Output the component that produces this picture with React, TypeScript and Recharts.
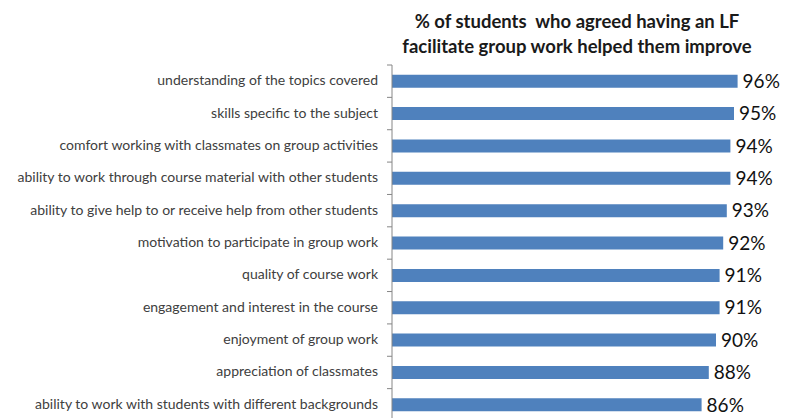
import { BarChart, Bar, XAxis, YAxis, LabelList } from 'recharts';

const CATEGORIES = [
  'understanding of the topics covered',
  'skills specific to the subject',
  'comfort working with classmates on group activities',
  'ability to work through course material with other students',
  'ability to give help to or receive help from other students',
  'motivation to participate in group work',
  'quality of course work',
  'engagement and interest in the course',
  'enjoyment of group work',
  'appreciation of classmates',
  'ability to work with students with different backgrounds',
];

const PERCENT_AGREED = [0.96, 0.95, 0.94, 0.94, 0.93, 0.92, 0.91, 0.91, 0.90, 0.88, 0.86];

const TITLE_LINES = [
  '% of students  who agreed having an LF',
  'facilitate group work helped them improve',
];

const data = CATEGORIES.map((name, i) => ({ name, value: PERCENT_AGREED[i] }));

const WIDTH = 792;
const HEIGHT = 425;
const MARGIN = { top: 65, right: 40, bottom: 4, left: 0 };
const BAND = (HEIGHT - MARGIN.top - MARGIN.bottom) / CATEGORIES.length;
const FONT = 'Lato, "Open Sans", sans-serif';

// label plus the little Excel-style tick sitting between categories
function CategoryTick(props: any) {
  const { x, y, payload } = props;
  return (
    <g>
      <text x={x} y={y} dy={4} textAnchor="end" fill="#404040" fontSize={14} fontFamily={FONT}>
        {payload.value}
      </text>
      <line x1={x + 9} x2={x + 14} y1={y - BAND / 2} y2={y - BAND / 2} stroke="#868686" />
    </g>
  );
}

export default function App() {
  return (
    <div style={{ position: 'absolute', left: 0, top: 0, width: WIDTH, height: 418, overflow: 'hidden', background: '#fff' }}>
      <div
        style={{
          position: 'absolute',
          left: 377,
          width: 400,
          top: 9,
          textAlign: 'center',
          fontFamily: FONT,
          fontWeight: 700,
          fontSize: 18.5,
          lineHeight: '25px',
          color: '#1a1a1a',
        }}
      >
        {TITLE_LINES.map((t) => (
          <div key={t} style={{ whiteSpace: 'pre' }}>{t}</div>
        ))}
      </div>
      <BarChart width={WIDTH} height={HEIGHT} data={data} layout="vertical" margin={MARGIN} barCategoryGap="30%">
        <XAxis type="number" domain={[0, 1]} hide />
        <YAxis
          type="category"
          dataKey="name"
          width={392}
          axisLine={{ stroke: '#868686' }}
          tickLine={false}
          tickSize={5}
          tickMargin={9}
          interval={0}
          tick={<CategoryTick />}
        />
        <Bar dataKey="value" fill="#4F81BD" isAnimationActive={false}>
          <LabelList
            dataKey="value"
            position="right"
            offset={5}
            formatter={(v: any) => `${Math.round(Number(v) * 100)}%`}
            fill="#111"
            fontSize={19}
            fontFamily={FONT}
          />
        </Bar>
      </BarChart>
    </div>
  );
}
